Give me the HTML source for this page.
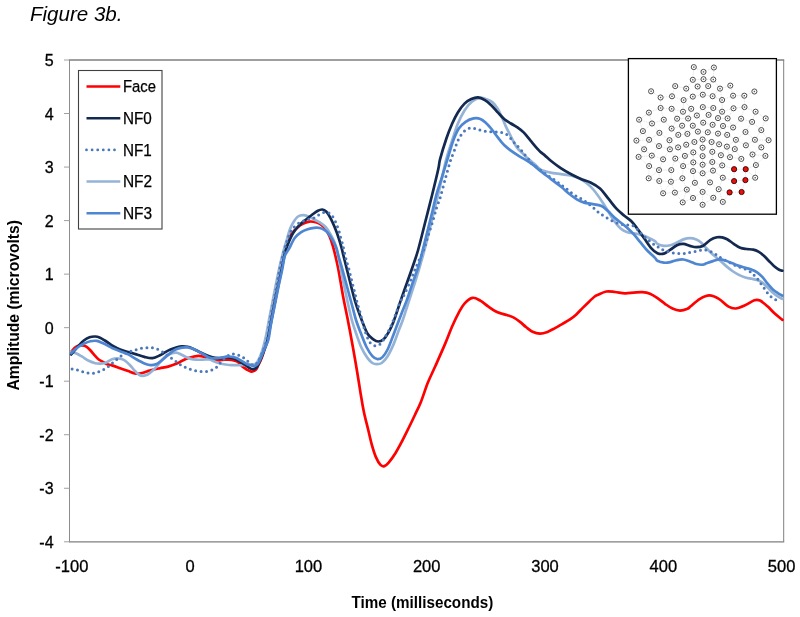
<!DOCTYPE html>
<html><head><meta charset="utf-8"><style>
html,body{margin:0;padding:0;background:#fff;width:800px;height:617px;overflow:hidden}
svg{display:block}
text{font-family:"Liberation Sans",sans-serif;fill:#000}
svg{will-change:transform}
</style></head><body>
<svg width="800" height="617" viewBox="0 0 800 617">
<rect width="800" height="617" fill="#fff"/>
<text x="30" y="20.6" font-size="20" font-style="italic" textLength="92.5" lengthAdjust="spacingAndGlyphs">Figure 3b.</text>
<g fill="none" shape-rendering="auto"><line x1="69.5" y1="60.0" x2="69.5" y2="541.8" stroke="#8c8c8c" stroke-width="1"/><line x1="783.7" y1="60.0" x2="783.7" y2="541.8" stroke="#7f7f7f" stroke-width="1"/><line x1="69.0" y1="60.0" x2="784.2" y2="60.0" stroke="#7f7f7f" stroke-width="1.3"/><line x1="69.0" y1="541.8" x2="784.2" y2="541.8" stroke="#7f7f7f" stroke-width="1.3"/><line x1="64" y1="541.8" x2="69.5" y2="541.8" stroke="#a0a0a0" stroke-width="1"/><line x1="64" y1="488.27" x2="69.5" y2="488.27" stroke="#a0a0a0" stroke-width="1"/><line x1="64" y1="434.73" x2="69.5" y2="434.73" stroke="#a0a0a0" stroke-width="1"/><line x1="64" y1="381.2" x2="69.5" y2="381.2" stroke="#a0a0a0" stroke-width="1"/><line x1="64" y1="327.67" x2="69.5" y2="327.67" stroke="#a0a0a0" stroke-width="1"/><line x1="64" y1="274.13" x2="69.5" y2="274.13" stroke="#a0a0a0" stroke-width="1"/><line x1="64" y1="220.6" x2="69.5" y2="220.6" stroke="#a0a0a0" stroke-width="1"/><line x1="64" y1="167.07" x2="69.5" y2="167.07" stroke="#a0a0a0" stroke-width="1"/><line x1="64" y1="113.53" x2="69.5" y2="113.53" stroke="#a0a0a0" stroke-width="1"/><line x1="64" y1="60" x2="69.5" y2="60" stroke="#a0a0a0" stroke-width="1"/></g>
<g font-size="16" text-anchor="end" stroke="#000" stroke-width="0.3"><text x="53.6" y="547.8">-4</text><text x="53.6" y="494.27">-3</text><text x="53.6" y="440.73">-2</text><text x="53.6" y="387.2">-1</text><text x="53.6" y="333.67">0</text><text x="53.6" y="280.13">1</text><text x="53.6" y="226.6">2</text><text x="53.6" y="173.07">3</text><text x="53.6" y="119.53">4</text><text x="53.6" y="66">5</text></g>
<g font-size="16.5" text-anchor="middle" stroke="#000" stroke-width="0.3"><text x="71.8" y="571.8">-100</text><text x="190.1" y="571.8">0</text><text x="308.4" y="571.8">100</text><text x="426.7" y="571.8">200</text><text x="545" y="571.8">300</text><text x="663.3" y="571.8">400</text><text x="781.6" y="571.8">500</text></g>
<text x="351.5" y="608" font-size="16.5" font-weight="bold" textLength="141.8" lengthAdjust="spacingAndGlyphs">Time (milliseconds)</text>
<text transform="translate(19,390.5) rotate(-90)" x="0" y="0" font-size="16.5" font-weight="bold" textLength="170.5" lengthAdjust="spacingAndGlyphs">Amplitude (microvolts)</text>
<g fill="none" stroke-linejoin="round" stroke-linecap="round"><path d="M71.5,351.5C72,350.92 73.38,348.95 74.5,348C75.62,347.05 76.92,346.23 78.2,345.8C79.48,345.37 80.85,345.27 82.2,345.4C83.55,345.53 84.95,345.78 86.3,346.6C87.65,347.42 88.95,348.88 90.3,350.3C91.65,351.72 93.05,353.62 94.4,355.1C95.75,356.58 97.05,358.12 98.4,359.2C99.75,360.28 101.15,360.8 102.5,361.6C103.85,362.4 104.92,363.37 106.5,364C108.08,364.63 109.73,364.7 112,365.4C114.27,366.1 117.4,367.25 120.1,368.2C122.8,369.15 125.77,370.25 128.2,371.1C130.63,371.95 132.67,372.92 134.7,373.3C136.73,373.68 138.38,373.7 140.4,373.4C142.42,373.1 144.78,372.1 146.8,371.5C148.82,370.9 150.3,370.35 152.5,369.8C154.7,369.25 157.4,368.73 160,368.2C162.6,367.67 165.4,367.33 168.1,366.6C170.8,365.87 173.77,364.82 176.2,363.8C178.63,362.78 180.67,361.45 182.7,360.5C184.73,359.55 186.52,358.77 188.4,358.1C190.28,357.43 192.25,356.87 194,356.5C195.75,356.13 197.27,355.87 198.9,355.9C200.53,355.93 201.95,356.2 203.8,356.7C205.65,357.2 208.3,358.38 210,358.9C211.7,359.42 212.53,359.57 214,359.8C215.47,360.03 216.92,360.32 218.8,360.3C220.68,360.28 223.15,359.78 225.3,359.7C227.45,359.62 229.68,359.47 231.7,359.8C233.72,360.13 235.63,360.6 237.4,361.7C239.17,362.8 240.68,365.05 242.3,366.4C243.92,367.75 245.62,368.92 247.1,369.8C248.58,370.68 249.98,371.55 251.2,371.7C252.42,371.85 253.55,371.12 254.4,370.7C255.25,370.28 255.7,370.03 256.3,369.2C256.9,368.37 257.05,367.73 258,365.7C258.95,363.67 260.63,361 262,357C263.37,353 264.88,347.35 266.2,341.7C267.52,336.05 268.8,329.3 269.9,323.1C271,316.9 271.7,310.7 272.8,304.5C273.9,298.3 275.25,292.12 276.5,285.9C277.75,279.68 279.05,272.8 280.3,267.2C281.55,261.6 282.63,256.95 284,252.3C285.37,247.65 287.25,242.33 288.5,239.3C289.75,236.27 290.05,236.02 291.5,234.1C292.95,232.18 295.32,229.52 297.2,227.8C299.08,226.08 300.78,224.83 302.8,223.8C304.82,222.77 307.13,221.87 309.3,221.6C311.47,221.33 313.9,221.72 315.8,222.2C317.7,222.68 319.07,223.33 320.7,224.5C322.33,225.67 324.12,227.2 325.6,229.2C327.08,231.2 328.38,233.67 329.6,236.5C330.82,239.33 331.5,241.05 332.9,246.2C334.3,251.35 336.32,259.1 338,267.4C339.68,275.7 341.3,286.92 343,296C344.7,305.08 346.53,313.27 348.2,321.9C349.87,330.53 351.7,340.62 353,347.8C354.3,354.98 355.03,359.3 356,365C356.97,370.7 357.93,376.67 358.8,382C359.67,387.33 360.33,391.92 361.2,397C362.07,402.08 362.83,407.03 364,412.5C365.17,417.97 366.87,424.32 368.2,429.8C369.53,435.28 370.72,440.85 372,445.4C373.28,449.95 374.48,453.85 375.9,457.1C377.32,460.35 379.08,463.4 380.5,464.9C381.92,466.4 383,466.53 384.4,466.1C385.8,465.67 387.07,464.45 388.9,462.3C390.73,460.15 393.23,456.67 395.4,453.2C397.57,449.73 399.73,445.62 401.9,441.5C404.07,437.38 406.23,432.92 408.4,428.5C410.57,424.08 412.8,419.47 414.9,415C417,410.53 418.85,407.07 421,401.7C423.15,396.33 425.37,388.83 427.8,382.8C430.23,376.77 432.68,372.07 435.6,365.5C438.52,358.93 442.55,349.9 445.3,343.4C448.05,336.9 449.83,331.67 452.1,326.5C454.37,321.33 456.8,316.27 458.9,312.4C461,308.53 462.43,305.73 464.7,303.3C466.97,300.87 469.9,298.25 472.5,297.8C475.1,297.35 477.7,299.17 480.3,300.6C482.9,302.03 485.57,304.62 488.1,306.4C490.63,308.18 493.3,310.12 495.5,311.3C497.7,312.48 499.3,312.85 501.3,313.5C503.3,314.15 505.42,314.52 507.5,315.2C509.58,315.88 511.72,316.48 513.8,317.6C515.88,318.72 517.92,320.28 520,321.9C522.08,323.52 524.22,325.67 526.3,327.3C528.38,328.93 530.22,330.65 532.5,331.7C534.78,332.75 537.5,333.57 540,333.6C542.5,333.63 545,332.82 547.5,331.9C550,330.98 552.5,329.45 555,328.1C557.5,326.75 560,325.25 562.5,323.8C565,322.35 567.7,320.97 570,319.4C572.3,317.83 574.22,316.28 576.3,314.4C578.38,312.52 580.42,310.18 582.5,308.1C584.58,306.02 586.72,303.87 588.8,301.9C590.88,299.93 593.55,297.45 595,296.3C596.45,295.15 595.62,295.8 597.5,295C599.38,294.2 603.38,292 606.3,291.5C609.22,291 611.88,291.7 615,292C618.12,292.3 621.87,293.2 625,293.3C628.13,293.4 630.88,292.78 633.8,292.6C636.72,292.42 639.8,292 642.5,292.2C645.2,292.4 647.5,292.82 650,293.8C652.5,294.78 655,296.43 657.5,298.1C660,299.77 662.5,302.05 665,303.8C667.5,305.55 670,307.47 672.5,308.6C675,309.73 677.5,310.57 680,310.6C682.5,310.63 685.73,309.52 687.5,308.8C689.27,308.08 688.52,307.97 690.6,306.3C692.68,304.63 696.87,300.62 700,298.8C703.13,296.98 706.27,295.4 709.4,295.4C712.53,295.4 715.68,296.98 718.8,298.8C721.92,300.62 725.3,304.68 728.1,306.3C730.9,307.92 732.78,308.67 735.6,308.5C738.42,308.33 741.87,306.67 745,305.3C748.13,303.93 751.9,301.08 754.4,300.3C756.9,299.52 757.82,299.6 760,300.6C762.18,301.6 765,304.1 767.5,306.3C770,308.5 772.5,311.53 775,313.8C777.5,316.07 781.25,318.88 782.5,319.9" stroke="#ff0000" stroke-width="2.7"/><path d="M71.2,351.9C72.08,352.17 74.67,352.7 76.5,353.5C78.33,354.3 80.17,355.48 82.2,356.7C84.23,357.92 86.53,359.72 88.7,360.8C90.87,361.88 93.18,362.73 95.2,363.2C97.22,363.67 98.92,363.73 100.8,363.6C102.68,363.47 104.63,363.12 106.5,362.4C108.37,361.68 110,359.95 112,359.3C114,358.65 116.47,358.37 118.5,358.5C120.53,358.63 122.32,359.02 124.2,360.1C126.08,361.18 128.05,363.23 129.8,365C131.55,366.77 133.22,369.12 134.7,370.7C136.18,372.28 137.35,373.65 138.7,374.5C140.05,375.35 141.3,375.8 142.8,375.8C144.3,375.8 146.08,375.35 147.7,374.5C149.32,373.65 151.02,372.02 152.5,370.7C153.98,369.38 155.43,367.88 156.6,366.6C157.77,365.32 158.52,364.18 159.5,363C160.48,361.82 161.47,360.62 162.5,359.5C163.53,358.38 164.23,357.32 165.7,356.3C167.17,355.28 169.55,354.02 171.3,353.4C173.05,352.78 174.57,352.43 176.2,352.6C177.83,352.77 179.48,353.68 181.1,354.4C182.72,355.12 184.28,356.15 185.9,356.9C187.52,357.65 189.03,358.43 190.8,358.9C192.57,359.37 194.62,359.57 196.5,359.7C198.38,359.83 200.35,359.77 202.1,359.7C203.85,359.63 205.68,359.33 207,359.3C208.32,359.27 208.98,359.23 210,359.5C211.02,359.77 211.93,360.4 213.1,360.9C214.27,361.4 215.65,362.02 217,362.5C218.35,362.98 219.15,363.38 221.2,363.8C223.25,364.22 226.6,364.77 229.3,365C232,365.23 234.7,365.17 237.4,365.2C240.1,365.23 243.07,365.33 245.5,365.2C247.93,365.07 250.42,364.55 252,364.4C253.58,364.25 254.07,364.8 255,364.3C255.93,363.8 256.73,362.75 257.6,361.4C258.47,360.05 259.3,358.43 260.2,356.2C261.1,353.97 262.03,351.37 263,348C263.97,344.63 265,340.67 266,336C267,331.33 267.92,325.67 269,320C270.08,314.33 271.33,308 272.5,302C273.67,296 274.75,290.17 276,284C277.25,277.83 278.67,270.83 280,265C281.33,259.17 282.9,253.07 284,249C285.1,244.93 285.68,243.68 286.6,240.6C287.52,237.52 288.42,233.48 289.5,230.5C290.58,227.52 291.68,225.03 293.1,222.7C294.52,220.37 296.23,217.75 298,216.5C299.77,215.25 301.82,215.15 303.7,215.2C305.58,215.25 307.55,216.08 309.3,216.8C311.05,217.52 312.43,218.55 314.2,219.5C315.97,220.45 318,221.25 319.9,222.5C321.8,223.75 323.85,225.07 325.6,227C327.35,228.93 328.92,231.57 330.4,234.1C331.88,236.63 333.37,239.38 334.5,242.2C335.63,245.02 336.28,247.2 337.2,251C338.12,254.8 339.12,260.5 340,265C340.88,269.5 341.58,273.5 342.5,278C343.42,282.5 344.5,287.33 345.5,292C346.5,296.67 347.45,301.33 348.5,306C349.55,310.67 350.48,315.28 351.8,320C353.12,324.72 354.78,329.67 356.4,334.3C358.02,338.93 359.67,343.87 361.5,347.8C363.33,351.73 365.58,355.37 367.4,357.9C369.22,360.43 370.87,361.95 372.4,363C373.93,364.05 375.05,364.2 376.6,364.2C378.15,364.2 379.87,364.33 381.7,363C383.53,361.67 385.63,359.3 387.6,356.2C389.57,353.1 391.68,348.6 393.5,344.4C395.32,340.2 396.95,335.07 398.5,331C400.05,326.93 401.38,324 402.8,320C404.22,316 405.55,311.5 407,307C408.45,302.5 410,297.67 411.5,293C413,288.33 414.5,283.83 416,279C417.5,274.17 419,269.17 420.5,264C422,258.83 423.5,253.67 425,248C426.5,242.33 428,236.17 429.5,230C431,223.83 432.58,216.83 434,211C435.42,205.17 436.67,200.5 438,195C439.33,189.5 440.62,183.97 442,178C443.38,172.03 444.63,165.37 446.3,159.2C447.97,153.03 450.1,146.87 452,141C453.9,135.13 455.62,129.1 457.7,124C459.78,118.9 462.05,114.18 464.5,110.4C466.95,106.62 469.75,103.38 472.4,101.3C475.05,99.22 477.93,98.2 480.4,97.9C482.87,97.6 485.13,98.72 487.2,99.5C489.27,100.28 491,100.98 492.8,102.6C494.6,104.22 496.5,106.8 498,109.2C499.5,111.6 500.52,114.18 501.8,117C503.08,119.82 504.4,123.28 505.7,126.1C507,128.92 508.3,131.32 509.6,133.9C510.9,136.48 512.2,139.23 513.5,141.6C514.8,143.97 515.88,146.15 517.4,148.1C518.92,150.05 520.88,151.6 522.6,153.3C524.32,155 525.77,156.57 527.7,158.3C529.63,160.03 532.15,161.87 534.2,163.7C536.25,165.53 538.2,168.05 540,169.3C541.8,170.55 543.25,170.65 545,171.2C546.75,171.75 547.82,172.1 550.5,172.6C553.18,173.1 557.58,173.67 561.1,174.2C564.62,174.73 568.45,175.02 571.6,175.8C574.75,176.58 577.37,177.58 580,178.9C582.63,180.22 585.12,181.85 587.4,183.7C589.68,185.55 591.35,187.17 593.7,190C596.05,192.83 599.12,197.18 601.5,200.7C603.88,204.22 605.85,207.67 608,211.1C610.15,214.53 612.25,218.35 614.4,221.3C616.55,224.25 618.73,226.97 620.9,228.8C623.07,230.63 625.23,231.55 627.4,232.3C629.57,233.05 631.75,232.92 633.9,233.3C636.05,233.68 638.15,233.98 640.3,234.6C642.45,235.22 644.35,235.9 646.8,237C649.25,238.1 653.23,240.05 655,241.2C656.77,242.35 655.92,243.12 657.4,243.9C658.88,244.68 661.73,245.68 663.9,245.9C666.07,246.12 668.23,245.75 670.4,245.2C672.57,244.65 674.73,243.57 676.9,242.6C679.07,241.63 681.23,240.15 683.4,239.4C685.57,238.65 687.75,238.1 689.9,238.1C692.05,238.1 694.45,238.67 696.3,239.4C698.15,240.13 699.52,241.23 701,242.5C702.48,243.77 703.63,245.38 705.2,247C706.77,248.62 708.67,250.57 710.4,252.2C712.13,253.83 713.87,255.28 715.6,256.8C717.33,258.32 719.08,259.78 720.8,261.3C722.52,262.82 723.97,264.28 725.9,265.9C727.83,267.52 730.23,269.5 732.4,271C734.57,272.5 736.73,273.82 738.9,274.9C741.07,275.98 743.23,276.85 745.4,277.5C747.57,278.15 749.95,278.37 751.9,278.8C753.85,279.23 755.37,279.45 757.1,280.1C758.83,280.75 760.58,281.5 762.3,282.7C764.02,283.9 765.68,285.68 767.4,287.3C769.12,288.92 770.87,290.9 772.6,292.4C774.33,293.9 776.17,295.22 777.8,296.3C779.43,297.38 781.63,298.47 782.4,298.9" stroke="#95b3d7" stroke-width="2.7"/><path d="M71.2,354.5C71.75,353.83 73.33,351.88 74.5,350.5C75.67,349.12 76.65,347.87 78.2,346.2C79.75,344.53 81.92,341.98 83.8,340.5C85.68,339.02 87.6,337.97 89.5,337.3C91.4,336.63 93.45,336.43 95.2,336.5C96.95,336.57 98.38,337.03 100,337.7C101.62,338.37 103.27,339.48 104.9,340.5C106.53,341.52 108.62,342.97 109.8,343.8C110.98,344.63 110.28,344.53 112,345.5C113.72,346.47 117.4,348.52 120.1,349.6C122.8,350.68 125.5,351.2 128.2,352C130.9,352.8 133.6,353.58 136.3,354.4C139,355.22 141.7,356.28 144.4,356.9C147.1,357.52 149.9,358.37 152.5,358.1C155.1,357.83 157.93,356.25 160,355.3C162.07,354.35 163.15,353.35 164.9,352.4C166.65,351.45 168.62,350.4 170.5,349.6C172.38,348.8 174.3,348.15 176.2,347.6C178.1,347.05 180,346.43 181.9,346.3C183.8,346.17 185.85,346.45 187.6,346.8C189.35,347.15 190.65,347.67 192.4,348.4C194.15,349.13 196.2,350.27 198.1,351.2C200,352.13 201.82,353.12 203.8,354C205.78,354.88 208.13,355.87 210,356.5C211.87,357.13 213.33,357.5 215,357.8C216.67,358.1 218.08,358.38 220,358.3C221.92,358.22 224.33,357.32 226.5,357.3C228.67,357.28 230.83,357.55 233,358.2C235.17,358.85 237.57,360.15 239.5,361.2C241.43,362.25 242.98,363.4 244.6,364.5C246.22,365.6 247.8,367.02 249.2,367.8C250.6,368.58 251.78,369.25 253,369.2C254.22,369.15 255.5,368.53 256.5,367.5C257.5,366.47 258.08,364.92 259,363C259.92,361.08 260.67,359.42 262,356C263.33,352.58 265.55,347.83 267,342.5C268.45,337.17 269.47,330.25 270.7,324C271.93,317.75 273.17,311.25 274.4,305C275.63,298.75 276.85,292.67 278.1,286.5C279.35,280.33 280.75,273.58 281.9,268C283.05,262.42 284.08,256.77 285,253C285.92,249.23 286.05,248.73 287.4,245.4C288.75,242.07 291.07,236.4 293.1,233C295.13,229.6 297.43,227.25 299.6,225C301.77,222.75 304.07,221.17 306.1,219.5C308.13,217.83 309.92,216.42 311.8,215C313.68,213.58 315.65,211.92 317.4,211C319.15,210.08 320.8,209.37 322.3,209.5C323.8,209.63 325.05,210.42 326.4,211.8C327.75,213.18 329.05,215.3 330.4,217.8C331.75,220.3 333.15,223.52 334.5,226.8C335.85,230.08 337.28,233.85 338.5,237.5C339.72,241.15 341,245.78 341.8,248.7C342.6,251.62 341.9,249.37 343.3,255C344.7,260.63 348.13,274.47 350.2,282.5C352.27,290.53 353.82,297.03 355.7,303.2C357.58,309.37 359.55,314.45 361.5,319.5C363.45,324.55 365.43,330.18 367.4,333.5C369.37,336.82 371.48,338.07 373.3,339.4C375.12,340.73 376.62,341.5 378.3,341.5C379.98,341.5 381.72,340.88 383.4,339.4C385.08,337.92 386.72,335.55 388.4,332.6C390.08,329.65 391.38,327.23 393.5,321.7C395.62,316.17 398.83,305.95 401.1,299.4C403.37,292.85 405.15,287.93 407.1,282.4C409.05,276.87 410.97,271.6 412.8,266.2C414.63,260.8 416.07,257.2 418.1,250C420.13,242.8 422.67,232.17 425,223C427.33,213.83 429.88,204 432.1,195C434.32,186 436.97,174.97 438.3,169C439.63,163.03 438.77,164.23 440.1,159.2C441.43,154.17 444.32,144.67 446.3,138.8C448.28,132.93 450.1,128.35 452,124C453.9,119.65 455.62,116.1 457.7,112.7C459.78,109.3 462.23,105.87 464.5,103.6C466.77,101.33 469.03,100.13 471.3,99.1C473.57,98.07 475.83,97.22 478.1,97.4C480.37,97.58 482.67,98.87 484.9,100.2C487.13,101.53 489.32,103.33 491.5,105.4C493.68,107.47 495.85,110.28 498,112.6C500.15,114.92 502.25,117.48 504.4,119.3C506.55,121.12 508.73,122.15 510.9,123.5C513.07,124.85 515.23,125.88 517.4,127.4C519.57,128.92 521.75,130.45 523.9,132.6C526.05,134.75 528.15,137.72 530.3,140.3C532.45,142.88 535.18,146.22 536.8,148.1C538.42,149.98 538.63,150.35 540,151.6C541.37,152.85 543.25,154.12 545,155.6C546.75,157.08 547.82,158.37 550.5,160.5C553.18,162.63 557.58,166.07 561.1,168.4C564.62,170.73 568.1,172.65 571.6,174.5C575.1,176.35 578.95,178.17 582.1,179.5C585.25,180.83 587.52,181 590.5,182.5C593.48,184 597.02,185.8 600,188.5C602.98,191.2 605.7,195.38 608.4,198.7C611.1,202.02 613.6,205.6 616.2,208.4C618.8,211.2 621.43,213.32 624,215.5C626.57,217.68 629.27,219.15 631.6,221.5C633.93,223.85 635.85,226.73 638,229.6C640.15,232.47 642.35,235.67 644.5,238.7C646.65,241.73 648.75,245.38 650.9,247.8C653.05,250.22 655.23,252.23 657.4,253.2C659.57,254.17 661.73,254.18 663.9,253.6C666.07,253.02 668.23,251.1 670.4,249.7C672.57,248.3 674.73,246.17 676.9,245.2C679.07,244.23 681.23,243.78 683.4,243.9C685.57,244.02 687.75,245.35 689.9,245.9C692.05,246.45 694.15,247.18 696.3,247.2C698.45,247.22 700.45,247.22 702.8,246C705.15,244.78 708.05,241.35 710.4,239.9C712.75,238.45 714.97,237.73 716.9,237.3C718.83,236.87 720.28,236.97 722,237.3C723.72,237.63 725.25,238.22 727.2,239.3C729.15,240.38 731.53,242.4 733.7,243.8C735.87,245.2 738.03,246.83 740.2,247.7C742.37,248.57 744.53,248.68 746.7,249C748.87,249.32 751.25,249.17 753.2,249.6C755.15,250.03 756.67,250.62 758.4,251.6C760.13,252.58 761.88,253.98 763.6,255.5C765.32,257.02 766.98,258.97 768.7,260.7C770.42,262.43 772.17,264.4 773.9,265.9C775.63,267.4 777.68,268.9 779.1,269.7C780.52,270.5 781.85,270.53 782.4,270.7" stroke="#13294f" stroke-width="2.7"/><path d="M72.1,368.9C72.97,369.07 75.55,369.43 77.3,369.9C79.05,370.37 80.87,371.18 82.6,371.7C84.33,372.22 85.95,372.72 87.7,373C89.45,373.28 91.32,373.57 93.1,373.4C94.88,373.23 96.68,372.62 98.4,372C100.12,371.38 101.8,370.55 103.4,369.7C105,368.85 106.43,368.08 108,366.9C109.57,365.72 111.33,363.85 112.8,362.6C114.27,361.35 115.45,360.47 116.8,359.4C118.15,358.33 119.45,357.18 120.9,356.2C122.35,355.22 123.9,354.3 125.5,353.5C127.1,352.7 128.77,352.03 130.5,351.4C132.23,350.77 134.1,350.2 135.9,349.7C137.7,349.2 139.48,348.72 141.3,348.4C143.12,348.08 144.97,347.9 146.8,347.8C148.63,347.7 150.52,347.57 152.3,347.8C154.08,348.03 155.82,348.53 157.5,349.2C159.18,349.87 160.85,350.85 162.4,351.8C163.95,352.75 165.32,353.85 166.8,354.9C168.28,355.95 169.8,357.03 171.3,358.1C172.8,359.17 174.28,360.18 175.8,361.3C177.32,362.42 178.82,363.8 180.4,364.8C181.98,365.8 183.68,366.57 185.3,367.3C186.92,368.03 188.4,368.63 190.1,369.2C191.8,369.77 193.7,370.32 195.5,370.7C197.3,371.08 199.08,371.37 200.9,371.5C202.72,371.63 204.58,371.75 206.4,371.5C208.22,371.25 210.12,370.72 211.8,370C213.48,369.28 214.97,368.53 216.5,367.2C218.03,365.87 219.5,363.62 221,362C222.5,360.38 224.08,358.67 225.5,357.5C226.92,356.33 228.15,355.6 229.5,355C230.85,354.4 232.03,353.87 233.6,353.9C235.17,353.93 237.22,354.55 238.9,355.2C240.58,355.85 242.2,356.77 243.7,357.8C245.2,358.83 246.52,360.2 247.9,361.4C249.28,362.6 250.73,364.47 252,365C253.27,365.53 254.42,365.27 255.5,364.6C256.58,363.93 257.5,362.68 258.5,361C259.5,359.32 260.5,356.83 261.5,354.5C262.5,352.17 263.53,349.83 264.5,347C265.47,344.17 266.47,341.5 267.3,337.5C268.13,333.5 268.55,328.42 269.5,323C270.45,317.58 271.83,311 273,305C274.17,299 275.42,292.83 276.5,287C277.58,281.17 278.42,275.33 279.5,270C280.58,264.67 281.75,259.83 283,255C284.25,250.17 285.67,245 287,241C288.33,237 289.43,233.67 291,231C292.57,228.33 294.57,226.58 296.4,225C298.23,223.42 300.07,222.42 302,221.5C303.93,220.58 306.25,220 308,219.5C309.75,219 311.07,219 312.5,218.5C313.93,218 315.23,217.28 316.6,216.5C317.97,215.72 319.22,214.5 320.7,213.8C322.18,213.1 323.88,212.3 325.5,212.3C327.12,212.3 329.03,212.82 330.4,213.8C331.77,214.78 332.75,216.65 333.7,218.2C334.65,219.75 335.4,221.47 336.1,223.1C336.8,224.73 337.3,226.3 337.9,228C338.5,229.7 339.18,231.48 339.7,233.3C340.22,235.12 340.52,237.08 341,238.9C341.48,240.72 342.18,242.68 342.6,244.2C343.02,245.72 342.93,245.52 343.5,248C344.07,250.48 345.12,255.63 346,259.1C346.88,262.57 347.88,265.35 348.8,268.8C349.72,272.25 350.58,276.13 351.5,279.8C352.42,283.47 353.38,287.13 354.3,290.8C355.22,294.47 356.08,298.35 357,301.8C357.92,305.25 358.92,308.3 359.8,311.5C360.68,314.7 361.43,317.75 362.3,321C363.17,324.25 364.02,327.93 365,331C365.98,334.07 367.17,337.27 368.2,339.4C369.23,341.53 369.93,342.73 371.2,343.8C372.47,344.87 374.2,345.83 375.8,345.8C377.4,345.77 379.27,345.07 380.8,343.6C382.33,342.13 383.47,339.6 385,337C386.53,334.4 388.33,331.5 390,328C391.67,324.5 393.33,320.25 395,316C396.67,311.75 398.38,306.22 400,302.5C401.62,298.78 402.97,297.32 404.7,293.7C406.43,290.08 408.78,284.58 410.4,280.8C412.02,277.02 413.05,274.22 414.4,271C415.75,267.78 416.95,265.05 418.5,261.5C420.05,257.95 422.12,253.95 423.7,249.7C425.28,245.45 426.53,240.62 428,236C429.47,231.38 431.08,226.67 432.5,222C433.92,217.33 435.17,212.23 436.5,208C437.83,203.77 439,201.6 440.5,196.6C442,191.6 443.77,184.23 445.5,178C447.23,171.77 449.63,163.18 450.9,159.2C452.17,155.22 452.43,155.8 453.1,154.1C453.77,152.4 454.32,150.7 454.9,149C455.48,147.3 455.95,145.6 456.6,143.9C457.25,142.2 457.95,140.42 458.8,138.8C459.65,137.18 460.6,135.62 461.7,134.2C462.8,132.78 463.98,131.33 465.4,130.3C466.82,129.27 468.5,128.28 470.2,128C471.9,127.72 473.82,128.22 475.6,128.6C477.38,128.98 479.12,129.85 480.9,130.3C482.68,130.75 484.48,131.05 486.3,131.3C488.12,131.55 489.97,131.65 491.8,131.8C493.63,131.95 495.52,132.03 497.3,132.2C499.08,132.37 500.77,132.3 502.5,132.8C504.23,133.3 506.08,133.95 507.7,135.2C509.32,136.45 510.92,138.8 512.2,140.3C513.48,141.8 514.32,143.03 515.4,144.2C516.48,145.37 517.62,146.18 518.7,147.3C519.78,148.42 520.82,149.58 521.9,150.9C522.98,152.22 524.02,153.72 525.2,155.2C526.38,156.68 528.1,158.55 529,159.8C529.9,161.05 527.85,160.37 530.6,162.7C533.35,165.03 542.18,171.35 545.5,173.8C548.82,176.25 548.87,176.28 550.5,177.4C552.13,178.52 553.8,179.45 555.3,180.5C556.8,181.55 558.1,182.65 559.5,183.7C560.9,184.75 562.3,185.75 563.7,186.8C565.1,187.85 566.5,188.9 567.9,190C569.3,191.1 570.65,192.35 572.1,193.4C573.55,194.45 575.02,195.37 576.6,196.3C578.18,197.23 579.98,198.03 581.6,199C583.22,199.97 584.82,201.05 586.3,202.1C587.78,203.15 589.1,204.17 590.5,205.3C591.9,206.43 593.3,207.68 594.7,208.9C596.1,210.12 597.27,211.38 598.9,212.6C600.53,213.82 602.27,214.8 604.5,216.2C606.73,217.6 609.7,219.7 612.3,221C614.9,222.3 617.52,223.35 620.1,224C622.68,224.65 625.53,224.57 627.8,224.9C630.07,225.23 631.57,224.67 633.7,226C635.83,227.33 638.17,230.57 640.6,232.9C643.03,235.23 645.93,237.95 648.3,240C650.67,242.05 652.95,243.9 654.8,245.2C656.65,246.5 657.88,246.93 659.4,247.8C660.92,248.67 662.18,249.7 663.9,250.4C665.62,251.1 667.87,251.53 669.7,252C671.53,252.47 673.05,252.93 674.9,253.2C676.75,253.47 678.95,253.6 680.8,253.6C682.65,253.6 684.28,253.42 686,253.2C687.72,252.98 689.27,252.67 691.1,252.3C692.93,251.93 695.15,251.38 697,251C698.85,250.62 700.52,250.12 702.2,250C703.88,249.88 705.42,249.93 707.1,250.3C708.78,250.67 710.57,251.33 712.3,252.2C714.03,253.07 715.88,254.42 717.5,255.5C719.12,256.58 720.38,257.73 722,258.7C723.62,259.67 725.47,260.43 727.2,261.3C728.93,262.17 730.67,263.03 732.4,263.9C734.13,264.77 735.65,265.73 737.6,266.5C739.55,267.27 741.83,267.53 744.1,268.5C746.37,269.47 749.37,271.02 751.2,272.3C753.03,273.58 753.8,274.78 755.1,276.2C756.4,277.62 757.92,279.38 759,280.8C760.08,282.22 760.62,283.3 761.6,284.7C762.58,286.1 763.82,287.7 764.9,289.2C765.98,290.7 766.92,292.3 768.1,293.7C769.28,295.1 770.6,296.52 772,297.6C773.4,298.68 775.1,299.43 776.5,300.2C777.9,300.97 779.75,301.87 780.4,302.2" stroke="#4a78bb" stroke-width="3.0" stroke-dasharray="0 5.49"/><path d="M71.2,353.2C71.75,352.67 73.33,351.03 74.5,350C75.67,348.97 76.65,348.03 78.2,347C79.75,345.97 81.78,344.75 83.8,343.8C85.82,342.85 88.13,341.78 90.3,341.3C92.47,340.82 94.77,340.62 96.8,340.9C98.83,341.18 100.47,342.12 102.5,343C104.53,343.88 107.42,345.37 109,346.2C110.58,347.03 110.15,347.17 112,348C113.85,348.83 117.4,350.13 120.1,351.2C122.8,352.27 125.5,353.05 128.2,354.4C130.9,355.75 133.6,357.8 136.3,359.3C139,360.8 141.97,362.42 144.4,363.4C146.83,364.38 148.87,365.1 150.9,365.2C152.93,365.3 155.08,364.58 156.6,364C158.12,363.42 158.62,362.75 160,361.7C161.38,360.65 163.15,359.18 164.9,357.7C166.65,356.22 168.62,354.22 170.5,352.8C172.38,351.38 174.3,350.07 176.2,349.2C178.1,348.33 180,347.9 181.9,347.6C183.8,347.3 185.85,347.23 187.6,347.4C189.35,347.57 190.65,347.93 192.4,348.6C194.15,349.27 196,350.28 198.1,351.4C200.2,352.52 203.18,354.28 205,355.3C206.82,356.32 207.65,357 209,357.5C210.35,358 211.77,358.18 213.1,358.3C214.43,358.42 215.65,358.3 217,358.2C218.35,358.1 219.82,357.93 221.2,357.7C222.58,357.47 223.95,357 225.3,356.8C226.65,356.6 227.55,356.35 229.3,356.5C231.05,356.65 233.77,356.97 235.8,357.7C237.83,358.43 239.62,359.82 241.5,360.9C243.38,361.98 245.35,363.42 247.1,364.2C248.85,364.98 250.72,365.32 252,365.6C253.28,365.88 253.87,366.13 254.8,365.9C255.73,365.67 256.7,365.27 257.6,364.2C258.5,363.13 259.12,361.92 260.2,359.5C261.28,357.08 262.75,352.95 264.1,349.7C265.45,346.45 267.17,344.2 268.3,340C269.43,335.8 269.85,330.17 270.9,324.5C271.95,318.83 273.37,312.17 274.6,306C275.83,299.83 277.05,293.5 278.3,287.5C279.55,281.5 281.02,275.25 282.1,270C283.18,264.75 283.63,259.55 284.8,256C285.97,252.45 287.45,251.7 289.1,248.7C290.75,245.7 292.68,240.75 294.7,238C296.72,235.25 299.03,233.67 301.2,232.2C303.37,230.73 305.53,229.93 307.7,229.2C309.87,228.47 312.17,228 314.2,227.8C316.23,227.6 318.15,227.6 319.9,228C321.65,228.4 323.22,229.18 324.7,230.2C326.18,231.22 327.43,232.37 328.8,234.1C330.17,235.83 331.65,238.28 332.9,240.6C334.15,242.92 335.37,245.43 336.3,248C337.23,250.57 337.55,252.67 338.5,256C339.45,259.33 340.83,263.83 342,268C343.17,272.17 344.33,276.67 345.5,281C346.67,285.33 347.83,289.67 349,294C350.17,298.33 351.33,302.67 352.5,307C353.67,311.33 354.65,315.73 356,320C357.35,324.27 358.85,328.1 360.6,332.6C362.35,337.1 364.53,343.07 366.5,347C368.47,350.93 370.57,354.17 372.4,356.2C374.23,358.23 375.82,359.05 377.5,359.2C379.18,359.35 380.82,358.72 382.5,357.1C384.18,355.48 385.9,352.88 387.6,349.5C389.3,346.12 391.02,341.15 392.7,336.8C394.38,332.45 396.07,327.7 397.7,323.4C399.33,319.1 400.93,315 402.5,311C404.07,307 405.38,304.17 407.1,299.4C408.82,294.63 410.9,287.93 412.8,282.4C414.7,276.87 416.8,271.77 418.5,266.2C420.2,260.63 421.42,255.2 423,249C424.58,242.8 426.42,235.33 428,229C429.58,222.67 431.12,216.67 432.5,211C433.88,205.33 434.72,200.67 436.3,195C437.88,189.33 440.13,182.97 442,177C443.87,171.03 445.65,165.2 447.5,159.2C449.35,153.2 451.22,146.1 453.1,141C454.98,135.9 456.72,131.8 458.8,128.6C460.88,125.4 463.13,123.5 465.6,121.8C468.07,120.1 471.13,118.88 473.6,118.4C476.07,117.92 478.33,118.13 480.4,118.9C482.47,119.67 484.15,121.32 486,123C487.85,124.68 489.5,126.55 491.5,129C493.5,131.45 495.85,134.98 498,137.7C500.15,140.42 502.25,143.13 504.4,145.3C506.55,147.47 508.52,148.93 510.9,150.7C513.28,152.47 516.1,154.28 518.7,155.9C521.3,157.52 523.92,158.78 526.5,160.4C529.08,162.02 531.95,163.87 534.2,165.6C536.45,167.33 537.28,168.62 540,170.8C542.72,172.98 546.98,176.03 550.5,178.7C554.02,181.37 557.93,184.25 561.1,186.8C564.27,189.35 566.88,191.92 569.5,194C572.12,196.08 574.35,197.87 576.8,199.3C579.25,200.73 581.73,201.83 584.2,202.6C586.67,203.37 588.72,203.33 591.6,203.9C594.48,204.47 598.77,204.8 601.5,206C604.23,207.2 605.85,209.2 608,211.1C610.15,213 612.25,215.47 614.4,217.4C616.55,219.33 618.73,220.95 620.9,222.7C623.07,224.45 625.23,225.95 627.4,227.9C629.57,229.85 631.75,232.02 633.9,234.4C636.05,236.78 638.15,239.6 640.3,242.2C642.45,244.8 644.35,247.38 646.8,250C649.25,252.62 653.23,256.1 655,257.9C656.77,259.7 655.92,260 657.4,260.8C658.88,261.6 661.73,262.48 663.9,262.7C666.07,262.92 668.23,262.53 670.4,262.1C672.57,261.67 674.73,260.53 676.9,260.1C679.07,259.67 681.23,259.28 683.4,259.5C685.57,259.72 687.75,260.65 689.9,261.4C692.05,262.15 694.15,263.45 696.3,264C698.45,264.55 701.1,264.82 702.8,264.7C704.5,264.58 704.8,263.9 706.5,263.3C708.2,262.7 710.83,261.75 713,261.1C715.17,260.45 717.35,259.47 719.5,259.4C721.65,259.33 723.75,260.05 725.9,260.7C728.05,261.35 730.23,262.43 732.4,263.3C734.57,264.17 736.73,265.15 738.9,265.9C741.07,266.65 743.23,267.17 745.4,267.8C747.57,268.43 749.95,268.95 751.9,269.7C753.85,270.45 755.37,271.1 757.1,272.3C758.83,273.5 760.58,275.05 762.3,276.9C764.02,278.75 765.68,281.35 767.4,283.4C769.12,285.45 770.87,287.58 772.6,289.2C774.33,290.82 776.17,292.02 777.8,293.1C779.43,294.18 781.63,295.27 782.4,295.7" stroke="#4f86d2" stroke-width="2.7"/></g>
<rect x="78.5" y="70.5" width="83.5" height="158.5" fill="#fff" stroke="#414141" stroke-width="1.1"/>
<line x1="86.5" y1="86.5" x2="120.3" y2="86.5" stroke="#ff0000" stroke-width="2.5"/><text x="122.9" y="92.1" font-size="16.3" stroke="#000" stroke-width="0.25" textLength="33.0" lengthAdjust="spacingAndGlyphs">Face</text><line x1="86.5" y1="118.2" x2="120.3" y2="118.2" stroke="#13294f" stroke-width="2.5"/><text x="122.9" y="123.8" font-size="16.3" stroke="#000" stroke-width="0.25" textLength="28.8" lengthAdjust="spacingAndGlyphs">NF0</text><line x1="86.5" y1="149.9" x2="116" y2="149.9" stroke="#4a78bb" stroke-width="2.8" stroke-dasharray="0 5.6" stroke-linecap="round"/><text x="122.9" y="155.5" font-size="16.3" stroke="#000" stroke-width="0.25" textLength="28.8" lengthAdjust="spacingAndGlyphs">NF1</text><line x1="86.5" y1="181.6" x2="120.3" y2="181.6" stroke="#95b3d7" stroke-width="2.5"/><text x="122.9" y="187.2" font-size="16.3" stroke="#000" stroke-width="0.25" textLength="29.2" lengthAdjust="spacingAndGlyphs">NF2</text><line x1="86.5" y1="213.3" x2="120.3" y2="213.3" stroke="#4f86d2" stroke-width="2.5"/><text x="122.9" y="218.9" font-size="16.3" stroke="#000" stroke-width="0.25" textLength="29.2" lengthAdjust="spacingAndGlyphs">NF3</text>
<rect x="628.4" y="58.6" width="148" height="155.6" fill="#fff" stroke="#000" stroke-width="1.3"/>
<g stroke="#c4c4c4" stroke-width="0.5" stroke-dasharray="1 0.8"><line x1="693.8" y1="67.1" x2="692.8" y2="79.8"/><line x1="693.8" y1="67.1" x2="703.5" y2="71.9"/><line x1="692.8" y1="79.8" x2="686.2" y2="88.6"/><line x1="692.8" y1="79.8" x2="697.6" y2="86.5"/><line x1="692.8" y1="79.8" x2="703.5" y2="79.2"/><line x1="675.2" y1="86.1" x2="686.2" y2="88.6"/><line x1="675.2" y1="86.1" x2="672" y2="96.3"/><line x1="686.2" y1="88.6" x2="692.8" y2="96.6"/><line x1="697.6" y1="86.5" x2="703.5" y2="79.2"/><line x1="697.6" y1="86.5" x2="702.8" y2="94.7"/><line x1="651.1" y1="91.3" x2="660.6" y2="97.5"/><line x1="660.6" y1="97.5" x2="672" y2="96.3"/><line x1="660.6" y1="97.5" x2="660.6" y2="108"/><line x1="672" y1="96.3" x2="683.6" y2="100.1"/><line x1="683.6" y1="100.1" x2="692.8" y2="96.6"/><line x1="683.6" y1="100.1" x2="683" y2="111.7"/><line x1="683.6" y1="100.1" x2="691.2" y2="108.8"/><line x1="692.8" y1="96.6" x2="702.8" y2="94.7"/><line x1="660.6" y1="108" x2="671.6" y2="108.8"/><line x1="660.6" y1="108" x2="648.9" y2="112.6"/><line x1="660.6" y1="108" x2="663.8" y2="119.7"/><line x1="671.6" y1="108.8" x2="683" y2="111.7"/><line x1="671.6" y1="108.8" x2="677.1" y2="118.7"/><line x1="683" y1="111.7" x2="691.2" y2="108.8"/><line x1="683" y1="111.7" x2="677.1" y2="118.7"/><line x1="683" y1="111.7" x2="688.1" y2="118.5"/><line x1="691.2" y1="108.8" x2="688.1" y2="118.5"/><line x1="691.2" y1="108.8" x2="696.9" y2="115.5"/><line x1="648.9" y1="112.6" x2="639.1" y2="119.7"/><line x1="648.9" y1="112.6" x2="652" y2="123.5"/><line x1="639.1" y1="119.7" x2="652" y2="123.5"/><line x1="639.1" y1="119.7" x2="642.9" y2="131.1"/><line x1="652" y1="123.5" x2="663.8" y2="119.7"/><line x1="652" y1="123.5" x2="642.9" y2="131.1"/><line x1="652" y1="123.5" x2="659.4" y2="132.9"/><line x1="663.8" y1="119.7" x2="671.6" y2="128.6"/><line x1="677.1" y1="118.7" x2="688.1" y2="118.5"/><line x1="677.1" y1="118.7" x2="671.6" y2="128.6"/><line x1="677.1" y1="118.7" x2="682.1" y2="125.7"/><line x1="688.1" y1="118.5" x2="696.9" y2="115.5"/><line x1="688.1" y1="118.5" x2="682.1" y2="125.7"/><line x1="688.1" y1="118.5" x2="692.8" y2="125.7"/><line x1="696.9" y1="115.5" x2="702.8" y2="107.1"/><line x1="696.9" y1="115.5" x2="703.2" y2="122.7"/><line x1="642.9" y1="131.1" x2="636.4" y2="140.6"/><line x1="642.9" y1="131.1" x2="649.1" y2="139.8"/><line x1="659.4" y1="132.9" x2="649.1" y2="139.8"/><line x1="659.4" y1="132.9" x2="669.5" y2="140.2"/><line x1="671.6" y1="128.6" x2="682.1" y2="125.7"/><line x1="671.6" y1="128.6" x2="678.3" y2="134.9"/><line x1="682.1" y1="125.7" x2="678.3" y2="134.9"/><line x1="682.1" y1="125.7" x2="687.4" y2="133.9"/><line x1="692.8" y1="125.7" x2="697.9" y2="131.6"/><line x1="692.8" y1="125.7" x2="687.4" y2="133.9"/><line x1="697.9" y1="131.6" x2="707.8" y2="132.3"/><line x1="697.9" y1="131.6" x2="702.6" y2="139.5"/><line x1="678.3" y1="134.9" x2="687.4" y2="133.9"/><line x1="678.3" y1="134.9" x2="669.5" y2="140.2"/><line x1="713.9" y1="67.5" x2="703.5" y2="71.9"/><line x1="713.9" y1="67.5" x2="713.3" y2="79.5"/><line x1="703.5" y1="71.9" x2="703.5" y2="79.2"/><line x1="703.5" y1="79.2" x2="713.3" y2="79.5"/><line x1="703.5" y1="79.2" x2="708.2" y2="86.1"/><line x1="713.3" y1="79.5" x2="708.2" y2="86.1"/><line x1="713.3" y1="79.5" x2="720" y2="88.6"/><line x1="708.2" y1="86.1" x2="702.8" y2="94.7"/><line x1="720" y1="88.6" x2="730.3" y2="85.6"/><line x1="720" y1="88.6" x2="712.6" y2="96.2"/><line x1="720" y1="88.6" x2="722.1" y2="100"/><line x1="730.3" y1="85.6" x2="733.1" y2="95.7"/><line x1="754.4" y1="91.5" x2="744.3" y2="95.7"/><line x1="702.8" y1="94.7" x2="712.6" y2="96.2"/><line x1="712.6" y1="96.2" x2="722.1" y2="100"/><line x1="722.1" y1="100" x2="733.1" y2="95.7"/><line x1="722.1" y1="100" x2="722.1" y2="111.7"/><line x1="733.1" y1="95.7" x2="744.3" y2="95.7"/><line x1="744.3" y1="95.7" x2="744.5" y2="107.1"/><line x1="702.8" y1="107.1" x2="713.3" y2="108"/><line x1="702.8" y1="107.1" x2="708.6" y2="114.9"/><line x1="713.3" y1="108" x2="722.1" y2="111.7"/><line x1="713.3" y1="108" x2="708.6" y2="114.9"/><line x1="722.1" y1="111.7" x2="733.5" y2="108.3"/><line x1="722.1" y1="111.7" x2="718" y2="118.1"/><line x1="722.1" y1="111.7" x2="727.6" y2="118.4"/><line x1="733.5" y1="108.3" x2="744.5" y2="107.1"/><line x1="733.5" y1="108.3" x2="727.6" y2="118.4"/><line x1="744.5" y1="107.1" x2="755.6" y2="111.7"/><line x1="744.5" y1="107.1" x2="741.1" y2="118.7"/><line x1="755.6" y1="111.7" x2="765.7" y2="118.4"/><line x1="755.6" y1="111.7" x2="752.1" y2="121.9"/><line x1="765.7" y1="118.4" x2="761.3" y2="130.1"/><line x1="708.6" y1="114.9" x2="703.2" y2="122.7"/><line x1="703.2" y1="122.7" x2="712.6" y2="124.8"/><line x1="718" y1="118.1" x2="727.6" y2="118.4"/><line x1="718" y1="118.1" x2="712.6" y2="124.8"/><line x1="718" y1="118.1" x2="723" y2="126"/><line x1="727.6" y1="118.4" x2="723" y2="126"/><line x1="727.6" y1="118.4" x2="733.1" y2="127.5"/><line x1="741.1" y1="118.7" x2="752.1" y2="121.9"/><line x1="741.1" y1="118.7" x2="733.1" y2="127.5"/><line x1="752.1" y1="121.9" x2="761.3" y2="130.1"/><line x1="752.1" y1="121.9" x2="745.5" y2="132"/><line x1="712.6" y1="124.8" x2="707.8" y2="132.3"/><line x1="723" y1="126" x2="733.1" y2="127.5"/><line x1="723" y1="126" x2="718" y2="133.6"/><line x1="723" y1="126" x2="727.2" y2="134.9"/><line x1="733.1" y1="127.5" x2="727.2" y2="134.9"/><line x1="761.3" y1="130.1" x2="754.9" y2="139.8"/><line x1="761.3" y1="130.1" x2="768.6" y2="140.2"/><line x1="745.5" y1="132" x2="735.9" y2="139.8"/><line x1="745.5" y1="132" x2="754.9" y2="139.8"/><line x1="707.8" y1="132.3" x2="718" y2="133.6"/><line x1="707.8" y1="132.3" x2="702.6" y2="139.5"/><line x1="718" y1="133.6" x2="727.2" y2="134.9"/><line x1="727.2" y1="134.9" x2="735.9" y2="139.8"/><line x1="636.4" y1="140.6" x2="649.1" y2="139.8"/><line x1="636.4" y1="140.6" x2="644.1" y2="149.3"/><line x1="649.1" y1="139.8" x2="644.1" y2="149.3"/><line x1="649.1" y1="139.8" x2="659" y2="146.1"/><line x1="669.5" y1="140.2" x2="669.9" y2="149.3"/><line x1="669.5" y1="140.2" x2="678.1" y2="147.4"/><line x1="694.4" y1="142" x2="702.6" y2="139.5"/><line x1="694.4" y1="142" x2="686.2" y2="144.7"/><line x1="694.4" y1="142" x2="702.6" y2="147.7"/><line x1="702.6" y1="139.5" x2="702.6" y2="147.7"/><line x1="702.6" y1="139.5" x2="711.6" y2="142"/><line x1="644.1" y1="149.3" x2="638.6" y2="156.9"/><line x1="644.1" y1="149.3" x2="651.8" y2="155.6"/><line x1="659" y1="146.1" x2="669.9" y2="149.3"/><line x1="659" y1="146.1" x2="651.8" y2="155.6"/><line x1="669.9" y1="149.3" x2="678.1" y2="147.4"/><line x1="669.9" y1="149.3" x2="663.1" y2="159.3"/><line x1="669.9" y1="149.3" x2="675.3" y2="158.6"/><line x1="678.1" y1="147.4" x2="686.2" y2="144.7"/><line x1="678.1" y1="147.4" x2="684.9" y2="155.9"/><line x1="686.2" y1="144.7" x2="693.3" y2="152.4"/><line x1="702.6" y1="147.7" x2="702.6" y2="156.1"/><line x1="638.6" y1="156.9" x2="651.8" y2="155.6"/><line x1="638.6" y1="156.9" x2="649.1" y2="166.1"/><line x1="651.8" y1="155.6" x2="663.1" y2="159.3"/><line x1="651.8" y1="155.6" x2="649.1" y2="166.1"/><line x1="663.1" y1="159.3" x2="659" y2="170.1"/><line x1="675.3" y1="158.6" x2="684.9" y2="155.9"/><line x1="675.3" y1="158.6" x2="671.3" y2="170.1"/><line x1="675.3" y1="158.6" x2="683.1" y2="166.1"/><line x1="684.9" y1="155.9" x2="693.3" y2="152.4"/><line x1="684.9" y1="155.9" x2="683.1" y2="166.1"/><line x1="693.3" y1="152.4" x2="702.6" y2="156.1"/><line x1="693.3" y1="152.4" x2="693.3" y2="162.4"/><line x1="702.6" y1="156.1" x2="702.6" y2="164.7"/><line x1="649.1" y1="166.1" x2="659" y2="170.1"/><line x1="649.1" y1="166.1" x2="648.7" y2="178.3"/><line x1="659" y1="170.1" x2="671.3" y2="170.1"/><line x1="659" y1="170.1" x2="648.7" y2="178.3"/><line x1="659" y1="170.1" x2="659.3" y2="181"/><line x1="671.3" y1="170.1" x2="670.9" y2="181.7"/><line x1="683.1" y1="166.1" x2="693.3" y2="162.4"/><line x1="683.1" y1="166.1" x2="693" y2="171.1"/><line x1="683.1" y1="166.1" x2="682.4" y2="178.3"/><line x1="693.3" y1="162.4" x2="702.6" y2="164.7"/><line x1="693.3" y1="162.4" x2="693" y2="171.1"/><line x1="702.6" y1="164.7" x2="702.6" y2="173.3"/><line x1="702.6" y1="164.7" x2="712.3" y2="162"/><line x1="693" y1="171.1" x2="702.6" y2="173.3"/><line x1="693" y1="171.1" x2="694.9" y2="182.8"/><line x1="702.6" y1="173.3" x2="713" y2="170.6"/><line x1="702.6" y1="173.3" x2="710" y2="182.4"/><line x1="648.7" y1="178.3" x2="659.3" y2="181"/><line x1="659.3" y1="181" x2="670.9" y2="181.7"/><line x1="659.3" y1="181" x2="663.1" y2="193.3"/><line x1="670.9" y1="181.7" x2="682.4" y2="178.3"/><line x1="670.9" y1="181.7" x2="663.1" y2="193.3"/><line x1="670.9" y1="181.7" x2="674.9" y2="192.6"/><line x1="682.4" y1="178.3" x2="686.8" y2="189.6"/><line x1="694.9" y1="182.8" x2="702.6" y2="191.9"/><line x1="694.9" y1="182.8" x2="686.8" y2="189.6"/><line x1="702.6" y1="191.9" x2="693" y2="198"/><line x1="702.6" y1="191.9" x2="702.6" y2="204.8"/><line x1="702.6" y1="191.9" x2="710" y2="182.4"/><line x1="702.6" y1="191.9" x2="713.3" y2="197.8"/><line x1="663.1" y1="193.3" x2="674.9" y2="192.6"/><line x1="674.9" y1="192.6" x2="686.8" y2="189.6"/><line x1="674.9" y1="192.6" x2="682.7" y2="202.4"/><line x1="686.8" y1="189.6" x2="693" y2="198"/><line x1="686.8" y1="189.6" x2="682.7" y2="202.4"/><line x1="693" y1="198" x2="682.7" y2="202.4"/><line x1="693" y1="198" x2="702.6" y2="204.8"/><line x1="702.6" y1="204.8" x2="713.3" y2="197.8"/><line x1="711.6" y1="142" x2="719.1" y2="144.3"/><line x1="711.6" y1="142" x2="712.3" y2="151.8"/><line x1="719.1" y1="144.3" x2="726.9" y2="146.6"/><line x1="719.1" y1="144.3" x2="712.3" y2="151.8"/><line x1="735.9" y1="139.8" x2="726.9" y2="146.6"/><line x1="735.9" y1="139.8" x2="734.8" y2="149.1"/><line x1="735.9" y1="139.8" x2="745.9" y2="145.3"/><line x1="754.9" y1="139.8" x2="768.6" y2="140.2"/><line x1="754.9" y1="139.8" x2="745.9" y2="145.3"/><line x1="754.9" y1="139.8" x2="761.3" y2="147.4"/><line x1="768.6" y1="140.2" x2="761.3" y2="147.4"/><line x1="726.9" y1="146.6" x2="734.8" y2="149.1"/><line x1="726.9" y1="146.6" x2="720.9" y2="155.2"/><line x1="726.9" y1="146.6" x2="730" y2="157.2"/><line x1="734.8" y1="149.1" x2="730" y2="157.2"/><line x1="734.8" y1="149.1" x2="741.3" y2="158.9"/><line x1="745.9" y1="145.3" x2="752.5" y2="154.5"/><line x1="761.3" y1="147.4" x2="752.5" y2="154.5"/><line x1="761.3" y1="147.4" x2="765.4" y2="155.9"/><line x1="712.3" y1="151.8" x2="720.9" y2="155.2"/><line x1="712.3" y1="151.8" x2="712.3" y2="162"/><line x1="720.9" y1="155.2" x2="730" y2="157.2"/><line x1="720.9" y1="155.2" x2="722.2" y2="165.4"/><line x1="730" y1="157.2" x2="741.3" y2="158.9"/><line x1="741.3" y1="158.9" x2="745.7" y2="169.2"/><line x1="752.5" y1="154.5" x2="765.4" y2="155.9"/><line x1="752.5" y1="154.5" x2="755.9" y2="165.1"/><line x1="765.4" y1="155.9" x2="755.9" y2="165.1"/><line x1="712.3" y1="162" x2="722.2" y2="165.4"/><line x1="712.3" y1="162" x2="713" y2="170.6"/><line x1="722.2" y1="165.4" x2="713" y2="170.6"/><line x1="722.2" y1="165.4" x2="734.1" y2="169.2"/><line x1="755.9" y1="165.1" x2="755.2" y2="177.7"/><line x1="755.9" y1="165.1" x2="745.7" y2="169.2"/><line x1="713" y1="170.6" x2="722.8" y2="177.7"/><line x1="722.8" y1="177.7" x2="718.7" y2="189.2"/><line x1="722.8" y1="177.7" x2="734.1" y2="181.1"/><line x1="755.2" y1="177.7" x2="745.7" y2="169.2"/><line x1="755.2" y1="177.7" x2="745.4" y2="180.1"/><line x1="710" y1="182.4" x2="718.7" y2="189.2"/><line x1="718.7" y1="189.2" x2="713.3" y2="197.8"/><line x1="718.7" y1="189.2" x2="722.8" y2="201.9"/><line x1="718.7" y1="189.2" x2="729.6" y2="192.4"/><line x1="713.3" y1="197.8" x2="722.8" y2="201.9"/><line x1="722.8" y1="201.9" x2="729.6" y2="192.4"/><line x1="734.1" y1="169.2" x2="745.7" y2="169.2"/><line x1="734.1" y1="169.2" x2="734.1" y2="181.1"/><line x1="745.7" y1="169.2" x2="745.4" y2="180.1"/><line x1="734.1" y1="181.1" x2="745.4" y2="180.1"/><line x1="734.1" y1="181.1" x2="741.6" y2="192"/><line x1="745.4" y1="180.1" x2="741.6" y2="192"/><line x1="729.6" y1="192.4" x2="741.6" y2="192"/></g>
<g fill="#fff" stroke="#4d4d4d" stroke-width="1"><circle cx="693.8" cy="67.1" r="2.55"/><circle cx="692.8" cy="79.8" r="2.55"/><circle cx="675.2" cy="86.1" r="2.55"/><circle cx="686.2" cy="88.6" r="2.55"/><circle cx="697.6" cy="86.5" r="2.55"/><circle cx="651.1" cy="91.3" r="2.55"/><circle cx="660.6" cy="97.5" r="2.55"/><circle cx="672" cy="96.3" r="2.55"/><circle cx="683.6" cy="100.1" r="2.55"/><circle cx="692.8" cy="96.6" r="2.55"/><circle cx="660.6" cy="108" r="2.55"/><circle cx="671.6" cy="108.8" r="2.55"/><circle cx="683" cy="111.7" r="2.55"/><circle cx="691.2" cy="108.8" r="2.55"/><circle cx="648.9" cy="112.6" r="2.55"/><circle cx="639.1" cy="119.7" r="2.55"/><circle cx="652" cy="123.5" r="2.55"/><circle cx="663.8" cy="119.7" r="2.55"/><circle cx="677.1" cy="118.7" r="2.55"/><circle cx="688.1" cy="118.5" r="2.55"/><circle cx="696.9" cy="115.5" r="2.55"/><circle cx="642.9" cy="131.1" r="2.55"/><circle cx="659.4" cy="132.9" r="2.55"/><circle cx="671.6" cy="128.6" r="2.55"/><circle cx="682.1" cy="125.7" r="2.55"/><circle cx="692.8" cy="125.7" r="2.55"/><circle cx="697.9" cy="131.6" r="2.55"/><circle cx="678.3" cy="134.9" r="2.55"/><circle cx="687.4" cy="133.9" r="2.55"/><circle cx="713.9" cy="67.5" r="2.55"/><circle cx="703.5" cy="71.9" r="2.55"/><circle cx="703.5" cy="79.2" r="2.55"/><circle cx="713.3" cy="79.5" r="2.55"/><circle cx="708.2" cy="86.1" r="2.55"/><circle cx="720" cy="88.6" r="2.55"/><circle cx="730.3" cy="85.6" r="2.55"/><circle cx="754.4" cy="91.5" r="2.55"/><circle cx="702.8" cy="94.7" r="2.55"/><circle cx="712.6" cy="96.2" r="2.55"/><circle cx="722.1" cy="100" r="2.55"/><circle cx="733.1" cy="95.7" r="2.55"/><circle cx="744.3" cy="95.7" r="2.55"/><circle cx="702.8" cy="107.1" r="2.55"/><circle cx="713.3" cy="108" r="2.55"/><circle cx="722.1" cy="111.7" r="2.55"/><circle cx="733.5" cy="108.3" r="2.55"/><circle cx="744.5" cy="107.1" r="2.55"/><circle cx="755.6" cy="111.7" r="2.55"/><circle cx="765.7" cy="118.4" r="2.55"/><circle cx="708.6" cy="114.9" r="2.55"/><circle cx="703.2" cy="122.7" r="2.55"/><circle cx="718" cy="118.1" r="2.55"/><circle cx="727.6" cy="118.4" r="2.55"/><circle cx="741.1" cy="118.7" r="2.55"/><circle cx="752.1" cy="121.9" r="2.55"/><circle cx="712.6" cy="124.8" r="2.55"/><circle cx="723" cy="126" r="2.55"/><circle cx="733.1" cy="127.5" r="2.55"/><circle cx="761.3" cy="130.1" r="2.55"/><circle cx="745.5" cy="132" r="2.55"/><circle cx="707.8" cy="132.3" r="2.55"/><circle cx="718" cy="133.6" r="2.55"/><circle cx="727.2" cy="134.9" r="2.55"/><circle cx="636.4" cy="140.6" r="2.55"/><circle cx="649.1" cy="139.8" r="2.55"/><circle cx="669.5" cy="140.2" r="2.55"/><circle cx="694.4" cy="142" r="2.55"/><circle cx="702.6" cy="139.5" r="2.55"/><circle cx="644.1" cy="149.3" r="2.55"/><circle cx="659" cy="146.1" r="2.55"/><circle cx="669.9" cy="149.3" r="2.55"/><circle cx="678.1" cy="147.4" r="2.55"/><circle cx="686.2" cy="144.7" r="2.55"/><circle cx="702.6" cy="147.7" r="2.55"/><circle cx="638.6" cy="156.9" r="2.55"/><circle cx="651.8" cy="155.6" r="2.55"/><circle cx="663.1" cy="159.3" r="2.55"/><circle cx="675.3" cy="158.6" r="2.55"/><circle cx="684.9" cy="155.9" r="2.55"/><circle cx="693.3" cy="152.4" r="2.55"/><circle cx="702.6" cy="156.1" r="2.55"/><circle cx="649.1" cy="166.1" r="2.55"/><circle cx="659" cy="170.1" r="2.55"/><circle cx="671.3" cy="170.1" r="2.55"/><circle cx="683.1" cy="166.1" r="2.55"/><circle cx="693.3" cy="162.4" r="2.55"/><circle cx="702.6" cy="164.7" r="2.55"/><circle cx="693" cy="171.1" r="2.55"/><circle cx="702.6" cy="173.3" r="2.55"/><circle cx="648.7" cy="178.3" r="2.55"/><circle cx="659.3" cy="181" r="2.55"/><circle cx="670.9" cy="181.7" r="2.55"/><circle cx="682.4" cy="178.3" r="2.55"/><circle cx="694.9" cy="182.8" r="2.55"/><circle cx="702.6" cy="191.9" r="2.55"/><circle cx="663.1" cy="193.3" r="2.55"/><circle cx="674.9" cy="192.6" r="2.55"/><circle cx="686.8" cy="189.6" r="2.55"/><circle cx="693" cy="198" r="2.55"/><circle cx="682.7" cy="202.4" r="2.55"/><circle cx="702.6" cy="204.8" r="2.55"/><circle cx="711.6" cy="142" r="2.55"/><circle cx="719.1" cy="144.3" r="2.55"/><circle cx="735.9" cy="139.8" r="2.55"/><circle cx="754.9" cy="139.8" r="2.55"/><circle cx="768.6" cy="140.2" r="2.55"/><circle cx="726.9" cy="146.6" r="2.55"/><circle cx="734.8" cy="149.1" r="2.55"/><circle cx="745.9" cy="145.3" r="2.55"/><circle cx="761.3" cy="147.4" r="2.55"/><circle cx="712.3" cy="151.8" r="2.55"/><circle cx="720.9" cy="155.2" r="2.55"/><circle cx="730" cy="157.2" r="2.55"/><circle cx="741.3" cy="158.9" r="2.55"/><circle cx="752.5" cy="154.5" r="2.55"/><circle cx="765.4" cy="155.9" r="2.55"/><circle cx="712.3" cy="162" r="2.55"/><circle cx="722.2" cy="165.4" r="2.55"/><circle cx="755.9" cy="165.1" r="2.55"/><circle cx="713" cy="170.6" r="2.55"/><circle cx="722.8" cy="177.7" r="2.55"/><circle cx="755.2" cy="177.7" r="2.55"/><circle cx="710" cy="182.4" r="2.55"/><circle cx="718.7" cy="189.2" r="2.55"/><circle cx="713.3" cy="197.8" r="2.55"/><circle cx="722.8" cy="201.9" r="2.55"/></g>
<g fill="#5a5a5a"><rect x="693.1" y="66.4" width="1.4" height="1.4"/><rect x="692.1" y="79.1" width="1.4" height="1.4"/><rect x="674.5" y="85.4" width="1.4" height="1.4"/><rect x="685.5" y="87.9" width="1.4" height="1.4"/><rect x="696.9" y="85.8" width="1.4" height="1.4"/><rect x="650.4" y="90.6" width="1.4" height="1.4"/><rect x="659.9" y="96.8" width="1.4" height="1.4"/><rect x="671.3" y="95.6" width="1.4" height="1.4"/><rect x="682.9" y="99.4" width="1.4" height="1.4"/><rect x="692.1" y="95.9" width="1.4" height="1.4"/><rect x="659.9" y="107.3" width="1.4" height="1.4"/><rect x="670.9" y="108.1" width="1.4" height="1.4"/><rect x="682.3" y="111" width="1.4" height="1.4"/><rect x="690.5" y="108.1" width="1.4" height="1.4"/><rect x="648.2" y="111.9" width="1.4" height="1.4"/><rect x="638.4" y="119" width="1.4" height="1.4"/><rect x="651.3" y="122.8" width="1.4" height="1.4"/><rect x="663.1" y="119" width="1.4" height="1.4"/><rect x="676.4" y="118" width="1.4" height="1.4"/><rect x="687.4" y="117.8" width="1.4" height="1.4"/><rect x="696.2" y="114.8" width="1.4" height="1.4"/><rect x="642.2" y="130.4" width="1.4" height="1.4"/><rect x="658.7" y="132.2" width="1.4" height="1.4"/><rect x="670.9" y="127.9" width="1.4" height="1.4"/><rect x="681.4" y="125" width="1.4" height="1.4"/><rect x="692.1" y="125" width="1.4" height="1.4"/><rect x="697.2" y="130.9" width="1.4" height="1.4"/><rect x="677.6" y="134.2" width="1.4" height="1.4"/><rect x="686.7" y="133.2" width="1.4" height="1.4"/><rect x="713.2" y="66.8" width="1.4" height="1.4"/><rect x="702.8" y="71.2" width="1.4" height="1.4"/><rect x="702.8" y="78.5" width="1.4" height="1.4"/><rect x="712.6" y="78.8" width="1.4" height="1.4"/><rect x="707.5" y="85.4" width="1.4" height="1.4"/><rect x="719.3" y="87.9" width="1.4" height="1.4"/><rect x="729.6" y="84.9" width="1.4" height="1.4"/><rect x="753.7" y="90.8" width="1.4" height="1.4"/><rect x="702.1" y="94" width="1.4" height="1.4"/><rect x="711.9" y="95.5" width="1.4" height="1.4"/><rect x="721.4" y="99.3" width="1.4" height="1.4"/><rect x="732.4" y="95" width="1.4" height="1.4"/><rect x="743.6" y="95" width="1.4" height="1.4"/><rect x="702.1" y="106.4" width="1.4" height="1.4"/><rect x="712.6" y="107.3" width="1.4" height="1.4"/><rect x="721.4" y="111" width="1.4" height="1.4"/><rect x="732.8" y="107.6" width="1.4" height="1.4"/><rect x="743.8" y="106.4" width="1.4" height="1.4"/><rect x="754.9" y="111" width="1.4" height="1.4"/><rect x="765" y="117.7" width="1.4" height="1.4"/><rect x="707.9" y="114.2" width="1.4" height="1.4"/><rect x="702.5" y="122" width="1.4" height="1.4"/><rect x="717.3" y="117.4" width="1.4" height="1.4"/><rect x="726.9" y="117.7" width="1.4" height="1.4"/><rect x="740.4" y="118" width="1.4" height="1.4"/><rect x="751.4" y="121.2" width="1.4" height="1.4"/><rect x="711.9" y="124.1" width="1.4" height="1.4"/><rect x="722.3" y="125.3" width="1.4" height="1.4"/><rect x="732.4" y="126.8" width="1.4" height="1.4"/><rect x="760.6" y="129.4" width="1.4" height="1.4"/><rect x="744.8" y="131.3" width="1.4" height="1.4"/><rect x="707.1" y="131.6" width="1.4" height="1.4"/><rect x="717.3" y="132.9" width="1.4" height="1.4"/><rect x="726.5" y="134.2" width="1.4" height="1.4"/><rect x="635.7" y="139.9" width="1.4" height="1.4"/><rect x="648.4" y="139.1" width="1.4" height="1.4"/><rect x="668.8" y="139.5" width="1.4" height="1.4"/><rect x="693.7" y="141.3" width="1.4" height="1.4"/><rect x="701.9" y="138.8" width="1.4" height="1.4"/><rect x="643.4" y="148.6" width="1.4" height="1.4"/><rect x="658.3" y="145.4" width="1.4" height="1.4"/><rect x="669.2" y="148.6" width="1.4" height="1.4"/><rect x="677.4" y="146.7" width="1.4" height="1.4"/><rect x="685.5" y="144" width="1.4" height="1.4"/><rect x="701.9" y="147" width="1.4" height="1.4"/><rect x="637.9" y="156.2" width="1.4" height="1.4"/><rect x="651.1" y="154.9" width="1.4" height="1.4"/><rect x="662.4" y="158.6" width="1.4" height="1.4"/><rect x="674.6" y="157.9" width="1.4" height="1.4"/><rect x="684.2" y="155.2" width="1.4" height="1.4"/><rect x="692.6" y="151.7" width="1.4" height="1.4"/><rect x="701.9" y="155.4" width="1.4" height="1.4"/><rect x="648.4" y="165.4" width="1.4" height="1.4"/><rect x="658.3" y="169.4" width="1.4" height="1.4"/><rect x="670.6" y="169.4" width="1.4" height="1.4"/><rect x="682.4" y="165.4" width="1.4" height="1.4"/><rect x="692.6" y="161.7" width="1.4" height="1.4"/><rect x="701.9" y="164" width="1.4" height="1.4"/><rect x="692.3" y="170.4" width="1.4" height="1.4"/><rect x="701.9" y="172.6" width="1.4" height="1.4"/><rect x="648" y="177.6" width="1.4" height="1.4"/><rect x="658.6" y="180.3" width="1.4" height="1.4"/><rect x="670.2" y="181" width="1.4" height="1.4"/><rect x="681.7" y="177.6" width="1.4" height="1.4"/><rect x="694.2" y="182.1" width="1.4" height="1.4"/><rect x="701.9" y="191.2" width="1.4" height="1.4"/><rect x="662.4" y="192.6" width="1.4" height="1.4"/><rect x="674.2" y="191.9" width="1.4" height="1.4"/><rect x="686.1" y="188.9" width="1.4" height="1.4"/><rect x="692.3" y="197.3" width="1.4" height="1.4"/><rect x="682" y="201.7" width="1.4" height="1.4"/><rect x="701.9" y="204.1" width="1.4" height="1.4"/><rect x="710.9" y="141.3" width="1.4" height="1.4"/><rect x="718.4" y="143.6" width="1.4" height="1.4"/><rect x="735.2" y="139.1" width="1.4" height="1.4"/><rect x="754.2" y="139.1" width="1.4" height="1.4"/><rect x="767.9" y="139.5" width="1.4" height="1.4"/><rect x="726.2" y="145.9" width="1.4" height="1.4"/><rect x="734.1" y="148.4" width="1.4" height="1.4"/><rect x="745.2" y="144.6" width="1.4" height="1.4"/><rect x="760.6" y="146.7" width="1.4" height="1.4"/><rect x="711.6" y="151.1" width="1.4" height="1.4"/><rect x="720.2" y="154.5" width="1.4" height="1.4"/><rect x="729.3" y="156.5" width="1.4" height="1.4"/><rect x="740.6" y="158.2" width="1.4" height="1.4"/><rect x="751.8" y="153.8" width="1.4" height="1.4"/><rect x="764.7" y="155.2" width="1.4" height="1.4"/><rect x="711.6" y="161.3" width="1.4" height="1.4"/><rect x="721.5" y="164.7" width="1.4" height="1.4"/><rect x="755.2" y="164.4" width="1.4" height="1.4"/><rect x="712.3" y="169.9" width="1.4" height="1.4"/><rect x="722.1" y="177" width="1.4" height="1.4"/><rect x="754.5" y="177" width="1.4" height="1.4"/><rect x="709.3" y="181.7" width="1.4" height="1.4"/><rect x="718" y="188.5" width="1.4" height="1.4"/><rect x="712.6" y="197.1" width="1.4" height="1.4"/><rect x="722.1" y="201.2" width="1.4" height="1.4"/></g>
<g fill="#e8100c" stroke="#3a0000" stroke-width="0.9"><circle cx="734.1" cy="169.2" r="2.6"/><circle cx="745.7" cy="169.2" r="2.6"/><circle cx="734.1" cy="181.1" r="2.6"/><circle cx="745.4" cy="180.1" r="2.6"/><circle cx="729.6" cy="192.4" r="2.6"/><circle cx="741.6" cy="192" r="2.6"/></g>
</svg>
</body></html>
